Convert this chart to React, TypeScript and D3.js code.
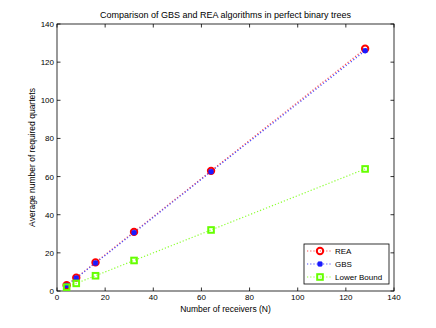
import { useEffect, useRef } from "react";
import * as d3 from "d3";

// data
const receivers = [4, 8, 16, 32, 64, 128];
const reaValues = [3, 7, 15, 31, 63, 127];
const gbsValues = [2.9, 6.8, 14.7, 30.6, 62.6, 126];
const lowerBound = [2, 4, 8, 16, 32, 64];
const xTicks = [0, 20, 40, 60, 80, 100, 120, 140];
const yTicks = [0, 20, 40, 60, 80, 100, 120, 140];
const seriesNames = ["REA", "GBS", "Lower Bound"];

const W = 436;
const H = 328;
const margin = { left: 57, right: 42, top: 24, bottom: 37 };
const FONT = "'Liberation Sans', Arial, Helvetica, sans-serif";

const App = () => {
  const ref = useRef<SVGSVGElement>(null);

  useEffect(() => {
    if (!ref.current) return;
    const svg = d3.select(ref.current);
    svg.selectAll("*").remove();

    const x = d3.scaleLinear().domain([0, 140]).range([margin.left, W - margin.right]);
    const y = d3.scaleLinear().domain([0, 140]).range([H - margin.bottom, margin.top]);

    svg.append("rect").attr("width", W).attr("height", H).attr("fill", "#fff");

    // axes box with inward ticks (matlab style)
    const x0 = x(0), x1 = x(140), y0 = y(0), y1 = y(140);
    const tl = 3.5;
    const axisG = svg.append("g").attr("stroke", "#000").attr("stroke-width", 0.8);
    axisG.append("rect")
      .attr("x", x0).attr("y", y1)
      .attr("width", x1 - x0).attr("height", y0 - y1)
      .attr("fill", "none");

    xTicks.forEach((t) => {
      axisG.append("line").attr("x1", x(t)).attr("x2", x(t)).attr("y1", y0).attr("y2", y0 - tl);
      axisG.append("line").attr("x1", x(t)).attr("x2", x(t)).attr("y1", y1).attr("y2", y1 + tl);
    });
    yTicks.forEach((t) => {
      axisG.append("line").attr("x1", x0).attr("x2", x0 + tl).attr("y1", y(t)).attr("y2", y(t));
      axisG.append("line").attr("x1", x1).attr("x2", x1 - tl).attr("y1", y(t)).attr("y2", y(t));
    });

    svg.append("g").selectAll("text").data(xTicks).enter().append("text")
      .attr("x", (d) => x(d)).attr("y", y0 + 9)
      .attr("text-anchor", "middle")
      .style("font-family", FONT).style("font-size", "8px")
      .text((d) => d);

    svg.append("g").selectAll("text").data(yTicks).enter().append("text")
      .attr("x", x0 - 3).attr("y", (d) => y(d) + 3)
      .attr("text-anchor", "end")
      .style("font-family", FONT).style("font-size", "8px")
      .text((d) => d);

    // titles
    svg.append("text")
      .attr("x", (x0 + x1) / 2).attr("y", 18)
      .attr("text-anchor", "middle")
      .style("font-family", FONT).style("font-size", "9px")
      .text("Comparison of GBS and REA algorithms in perfect binary trees");

    svg.append("text")
      .attr("x", (x0 + x1) / 2).attr("y", 312)
      .attr("text-anchor", "middle")
      .style("font-family", FONT).style("font-size", "8.5px")
      .text("Number of receivers (N)");

    svg.append("text")
      .attr("transform", `translate(35, ${(y0 + y1) / 2}) rotate(-90)`)
      .attr("text-anchor", "middle")
      .style("font-family", FONT).style("font-size", "8.5px")
      .text("Average number of required quartets");

    const line = d3.line<[number, number]>().x((d) => x(d[0])).y((d) => y(d[1]));
    const zip = (vals: number[]) => receivers.map((r, i) => [r, vals[i]] as [number, number]);

    const series = [
      { name: seriesNames[0], vals: reaValues, color: "#ff0000", lineColor: "#ff4d4d", marker: "circle" },
      { name: seriesNames[1], vals: gbsValues, color: "#1a1aff", lineColor: "#4d4dff", marker: "star" },
      { name: seriesNames[2], vals: lowerBound, color: "#66ff00", lineColor: "#8cff33", marker: "square" },
    ];

    const drawMarker = (g: any, cx: number, cy: number, s: any) => {
      if (s.marker === "circle") {
        g.append("circle").attr("cx", cx).attr("cy", cy).attr("r", 3.2)
          .attr("fill", "none").attr("stroke", s.color).attr("stroke-width", 2);
      } else if (s.marker === "square") {
        g.append("rect").attr("x", cx - 2.8).attr("y", cy - 2.8).attr("width", 5.6).attr("height", 5.6)
          .attr("fill", "none").attr("stroke", s.color).attr("stroke-width", 2);
      } else {
        const r = 2.8;
        const p = `M${cx - r},${cy}L${cx + r},${cy}M${cx},${cy - r}L${cx},${cy + r}` +
          `M${cx - r * 0.75},${cy - r * 0.75}L${cx + r * 0.75},${cy + r * 0.75}` +
          `M${cx - r * 0.75},${cy + r * 0.75}L${cx + r * 0.75},${cy - r * 0.75}`;
        g.append("path").attr("d", p).attr("stroke", s.color).attr("stroke-width", 1.6).attr("fill", "none");
      }
    };

    series.forEach((s) => {
      svg.append("path")
        .datum(zip(s.vals))
        .attr("d", line)
        .attr("fill", "none")
        .attr("stroke", s.lineColor)
        .attr("stroke-width", 1.2)
        .attr("stroke-dasharray", "1.2,2");
    });
    series.forEach((s) => {
      const g = svg.append("g");
      zip(s.vals).forEach((d) => drawMarker(g, x(d[0]), y(d[1]), s));
    });

    // legend
    const lx = 304, ly = 244, lw = 85, lh = 40;
    svg.append("rect").attr("x", lx).attr("y", ly).attr("width", lw).attr("height", lh)
      .attr("fill", "#fff").attr("stroke", "#000").attr("stroke-width", 0.8);
    series.forEach((s, i) => {
      const cy = ly + 7 + i * 13;
      svg.append("line").attr("x1", lx + 3).attr("x2", lx + 27).attr("y1", cy).attr("y2", cy)
        .attr("stroke", s.lineColor).attr("stroke-width", 1.2).attr("stroke-dasharray", "1.2,2");
      drawMarker(svg.append("g"), lx + 16, cy, s);
      svg.append("text").attr("x", lx + 31).attr("y", cy + 3)
        .style("font-family", FONT).style("font-size", "8px")
        .text(s.name);
    });
  }, []);

  return <svg ref={ref} width={W} height={H} style={{ display: "block", margin: "-8px" }} />;
};

export default App;
